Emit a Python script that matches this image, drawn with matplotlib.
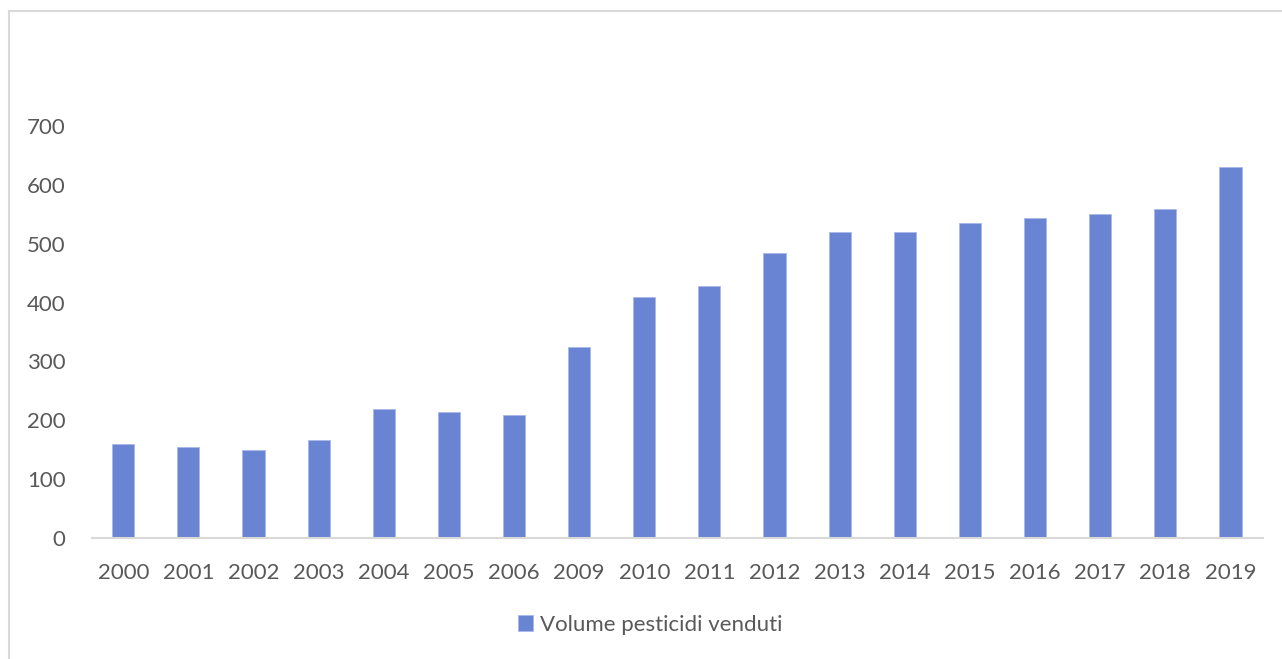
import matplotlib.pyplot as plt
from matplotlib.lines import Line2D
from matplotlib.patches import Patch

years = ['2000', '2001', '2002', '2003', '2004', '2005', '2006', '2009', '2010',
         '2011', '2012', '2013', '2014', '2015', '2016', '2017', '2018', '2019']
volume = [160, 155, 150, 167, 219, 214, 209, 325, 409,
          428, 484, 520, 520, 535, 544, 550, 559, 630]
yticks = [0, 100, 200, 300, 400, 500, 600, 700]

bar_color = '#6A84D4'
text_color = '#595959'

plt.rcParams['font.family'] = ['Lato', 'DejaVu Sans']

fig = plt.figure(figsize=(12.82, 6.59), dpi=100)
ax = fig.add_axes([92 / 1282, 1 - 538 / 659, 1171 / 1282, 412 / 659])

ax.bar(range(len(years)), volume, width=0.34, color=bar_color,
       edgecolor='#A9B8E8', linewidth=0.6)
ax.set_xlim(-0.48, len(years) - 0.5)
ax.set_ylim(0, 700)
ax.set_yticks(yticks)
ax.set_xticks(range(len(years)))
ax.set_xticklabels(years)
ax.tick_params(axis='both', length=0, labelsize=16, colors=text_color)
ax.tick_params(axis='x', pad=18)
ax.tick_params(axis='y', pad=19)
for s in ['top', 'right', 'left']:
    ax.spines[s].set_visible(False)
ax.spines['bottom'].set_color('#D9D9D9')
ax.spines['bottom'].set_linewidth(1.5)

# outer chart border
fig.add_artist(Line2D([9 / 1282, 9 / 1282], [0, 1 - 11 / 659],
                      transform=fig.transFigure, color='#D9D9D9', lw=1.5))
fig.add_artist(Line2D([9 / 1282, 1], [1 - 11 / 659, 1 - 11 / 659],
                      transform=fig.transFigure, color='#D9D9D9', lw=1.5))

handle = Patch(facecolor=bar_color, edgecolor='#A9B8E8', linewidth=0.6)
fig.legend([handle], ['Volume pesticidi venduti'], loc='center',
           bbox_to_anchor=(0.507, 0.052), frameon=False, fontsize=16,
           labelcolor=text_color, handlelength=0.7, handleheight=0.7,
           handletextpad=0.3)

fig.savefig('out.png', dpi=100)
